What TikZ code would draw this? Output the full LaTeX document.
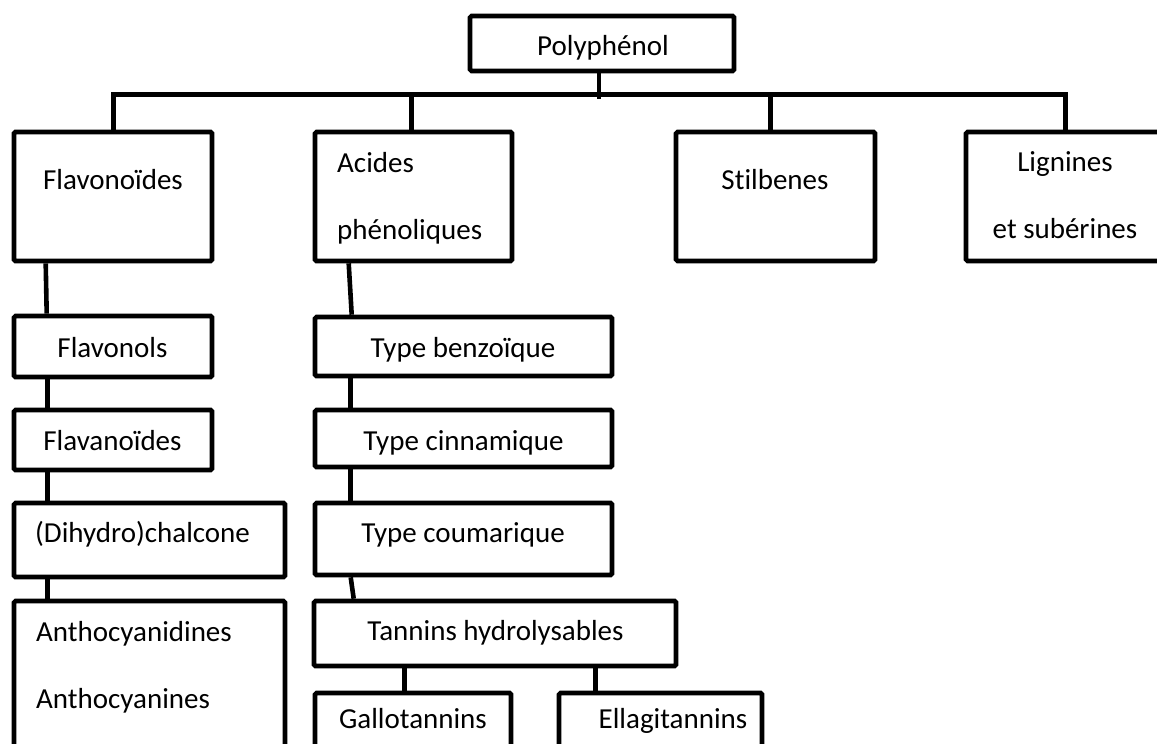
\documentclass[tikz,border=0pt]{standalone}
\usepackage{fontspec}
\setmainfont{Carlito}[Ligatures=NoCommon]
\usetikzlibrary{calc}
\newcommand{\mybox}[5]{\node[box, minimum width={(#4-#2)*1pt}, minimum height={(#5-#3)*1pt}] (#1) at ({(#2+#4)/2},{(#3+#5)/2}) {};}
\begin{document}
\begin{tikzpicture}[x=1pt,y=-1pt,
  box/.style={draw=black, line width=4.6pt, rounded corners=1.5pt, inner sep=0pt},
  conn/.style={draw=black, line width=4.6pt},
  txt/.style={inner sep=0pt, font=\fontsize{29}{35}\selectfont},
  ctxt/.style={txt, anchor=base},
  ltxt/.style={txt, anchor=base west}]
\useasboundingbox (0,0) rectangle (1157,744);
\fill[white] (0,0) rectangle (1157,744);
\clip (0,0) rectangle (1157,744);
% boxes
\mybox{poly}{470}{16}{734}{71}
\mybox{flavo}{14}{132}{212}{261}
\mybox{acides}{315}{132}{512}{261}
\mybox{stil}{676}{132}{875}{261}
\mybox{lign}{966}{132}{1200}{261}
\mybox{flavonols}{14}{316}{212}{377}
\mybox{flavanoides}{14}{410}{212}{470}
\mybox{dihydro}{14}{503}{285}{577}
\mybox{antho}{14}{601}{285}{800}
\mybox{benz}{315}{317}{612}{376}
\mybox{cinn}{315}{410}{612}{467}
\mybox{coum}{315}{503}{612}{575}
\mybox{tann}{314}{601}{676}{666}
\mybox{gallo}{315}{693}{511}{800}
\mybox{ellagi}{559}{693}{762}{800}
% texts
\node[ctxt] (tpoly) at (603,55) {Polyphénol};
\node[ctxt] (tflavo) at (113,189) {Flavonoïdes};
\node[ltxt] (tac1) at (337,172) {Acides};
\node[ltxt] (tac2) at (337,239) {phénoliques};
\node[ctxt] (tstil) at (775,189) {Stilbenes};
\node[ctxt] (tlig1) at (1065,171) {Lignines};
\node[ctxt] (tlig2) at (1065,238) {et subérines};
\node[ctxt] (tflavonols) at (112.5,357) {Flavonols};
\node[ctxt] (tflavanoides) at (112.5,450) {Flavanoïdes};
\node[ltxt] (tdihydro) at (35,542) {(Dihydro)chalcone};
\node[ltxt] (tan1) at (36,641) {Anthocyanidines};
\node[ltxt] (tan2) at (36,708) {Anthocyanines};
\node[ctxt] (tbenz) at (463,357) {Type benzoïque};
\node[ctxt] (tcinn) at (463.5,450) {Type cinnamique};
\node[ctxt] (tcoum) at (463,542) {Type coumarique};
\node[ctxt] (ttann) at (495.5,640) {Tannins hydrolysables};
\node[ctxt] (tgallo) at (413,728) {Gallotannins};
\node[ctxt] (tellagi) at (673,728) {Ellagitannins};
% connectors
\draw[conn] ([xshift=-3pt]poly.south) -- ++(0,26);
\draw[conn] ([xshift=102pt]flavo.north west) -- ++(0,-35) -| ([xshift=102pt]lign.north west);
\draw[conn] ([xshift=99pt]acides.north west) -- ++(0,-35);
\draw[conn] ([xshift=97pt]stil.north west) -- ++(0,-35);
\draw[conn] ([xshift=34pt]flavo.south west) -- ([xshift=35pt]flavonols.north west);
\draw[conn] ([xshift=36pt]flavonols.south west) -- ([xshift=36pt]flavanoides.north west);
\draw[conn] ([xshift=36pt]flavanoides.south west) -- ([xshift=36pt]dihydro.north west);
\draw[conn] ([xshift=36pt]dihydro.south west) -- ([xshift=36pt]antho.north west);
\draw[conn] ([xshift=36pt]acides.south west) -- ([xshift=39pt]benz.north west);
\draw[conn] ([xshift=38pt]benz.south west) -- ([xshift=38pt]cinn.north west);
\draw[conn] ([xshift=38pt]cinn.south west) -- ([xshift=38pt]coum.north west);
\draw[conn] ([xshift=38pt]coum.south west) -- ([xshift=42pt]tann.north west);
\draw[conn] ([xshift=93pt]tann.south west) -- ([xshift=92pt]gallo.north west);
\draw[conn] ([xshift=284pt]tann.south west) -- ([xshift=39pt]ellagi.north west);
\end{tikzpicture}
\end{document}
